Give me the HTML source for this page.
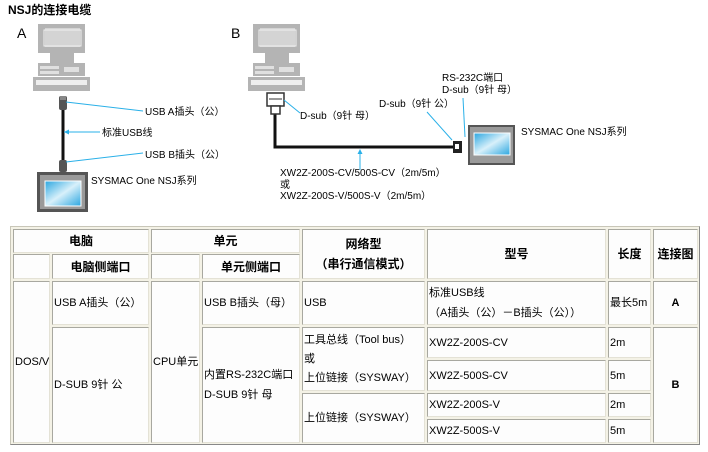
<!DOCTYPE html>
<html><head><meta charset="utf-8"><style>
body{margin:0;width:708px;height:452px;background:#fff;position:relative;overflow:hidden;font-family:"Liberation Sans","Noto Sans CJK SC",sans-serif;}
.t{position:absolute;left:10px;top:226px;width:688px;height:217px;background:#f4f2e6;border:1px solid #c8c6b8;border-right-color:#888;border-bottom-color:#888;}
.c{position:absolute;box-sizing:border-box;background:#fdfdfd;border:1px solid #a8a8a0;border-right-color:#e4e2d6;border-bottom-color:#e4e2d6;display:flex;align-items:center;font-size:11px;color:#000;padding-left:1px;line-height:18px;white-space:nowrap}
.h{justify-content:center;font-weight:bold;font-size:12px;padding:0}
.b{justify-content:center;font-weight:bold;padding:0}
svg text{font-family:"Liberation Sans","Noto Sans CJK SC",sans-serif;font-size:10px;fill:#000}
</style></head><body>
<svg width="708" height="222" style="position:absolute;left:0;top:0">
<text x="8" y="14" style="font-size:12px;font-weight:bold">NSJ的连接电缆</text>
<text x="17" y="38" style="font-size:14px">A</text>
<text x="231" y="38" style="font-size:14px">B</text>
<g id="pc" fill="#b4b4b4">
<rect x="38" y="24" width="47" height="29"/><rect x="45" y="28" width="35" height="19" fill="#d4d4d4"/>
<rect x="44" y="30" width="37" height="16" fill="none" stroke="#f0f0f0" stroke-width="1"/>
<rect x="50" y="53" width="24" height="10"/>
<rect x="38" y="63" width="47" height="13"/>
<rect x="40" y="66" width="19" height="3" fill="#e0e0e0"/><rect x="40" y="71" width="19" height="3" fill="#e0e0e0"/>
<rect x="64" y="67" width="15" height="5" fill="#e0e0e0"/>
<rect x="33" y="77" width="57" height="14"/>
<rect x="36" y="80" width="51" height="5" fill="#eee"/>
</g>
<use href="#pc" x="215" y="0"/>
<!-- A cable -->
<line x1="63" y1="108" x2="63" y2="162" stroke="#111" stroke-width="3"/>
<rect x="59" y="96" width="8" height="14" rx="2" fill="#555"/><rect x="60" y="96" width="6" height="4" fill="#888"/>
<rect x="59" y="160" width="8" height="12" rx="2" fill="#555"/>
<rect x="37" y="172" width="51" height="40" fill="#555"/><rect x="40" y="175" width="45" height="34" fill="#9a9a9a"/>
<defs><linearGradient id="g" x1="0" y1="0" x2="1" y2="1"><stop offset="0" stop-color="#2aa6e0"/><stop offset="0.5" stop-color="#d8f0fa"/><stop offset="1" stop-color="#2aa6e0"/></linearGradient></defs>
<rect x="45" y="181" width="36" height="25" fill="url(#g)" stroke="#fff"/>
<line x1="66" y1="102" x2="143" y2="111" stroke="#2ab0e8"/>
<line x1="64" y1="132" x2="100" y2="132" stroke="#2ab0e8"/><path d="M64 132 l5 -2.5 v5z" fill="#2ab0e8"/>
<line x1="66" y1="162" x2="143" y2="153" stroke="#2ab0e8"/>
<text x="145" y="115">USB A插头（公）</text>
<text x="102" y="136">标准USB线</text>
<text x="145" y="158">USB B插头（公）</text>
<text x="91" y="184">SYSMAC One NSJ系列</text>
<!-- B -->
<path d="M275 113 V147 H455" fill="none" stroke="#111" stroke-width="3"/>
<rect x="267" y="93" width="17" height="13" fill="#fff" stroke="#333" stroke-width="1.5"/><line x1="269" y1="99" x2="282" y2="99" stroke="#333"/>
<rect x="271" y="106" width="9" height="8" fill="#fff" stroke="#333" stroke-width="1.5"/>
<rect x="453" y="141" width="9" height="12" fill="#222"/><rect x="455" y="144" width="4" height="5" fill="#fff"/>
<rect x="468" y="125" width="47" height="40" fill="#555"/><rect x="470" y="127" width="43" height="36" fill="#9a9a9a"/>
<rect x="474" y="133" width="36" height="22" fill="url(#g)" stroke="#fff"/>
<line x1="284" y1="100" x2="300" y2="113" stroke="#2ab0e8"/>
<line x1="427" y1="112" x2="452" y2="140" stroke="#2ab0e8"/>
<line x1="463" y1="98" x2="465" y2="137" stroke="#2ab0e8"/>
<line x1="360" y1="150" x2="360" y2="170" stroke="#2ab0e8"/><path d="M360 149 l-2.5 5 h5z" fill="#2ab0e8"/>
<text x="300" y="119">D-sub（9针 母）</text>
<text x="379" y="107">D-sub（9针 公）</text>
<text x="442" y="81">RS-232C端口</text>
<text x="442" y="93">D-sub（9针 母）</text>
<text x="521" y="135">SYSMAC One NSJ系列</text>
<text x="280" y="176">XW2Z-200S-CV/500S-CV（2m/5m）</text>
<text x="280" y="188">或</text>
<text x="280" y="199">XW2Z-200S-V/500S-V（2m/5m）</text>
</svg>
<div class="t"></div>
<div class="c h" style="left:13px;top:229px;width:136px;height:24px">电脑</div>
<div class="c h" style="left:151px;top:229px;width:149px;height:24px">单元</div>
<div class="c h" style="left:302px;top:229px;width:123px;height:50px;line-height:20px;text-align:center">网络型<br>（串行通信模式）</div>
<div class="c h" style="left:427px;top:229px;width:179px;height:50px">型号</div>
<div class="c h" style="left:608px;top:229px;width:43px;height:50px">长度</div>
<div class="c h" style="left:653px;top:229px;width:45px;height:50px">连接图</div>
<div class="c" style="left:13px;top:254px;width:37px;height:25px"></div>
<div class="c h" style="left:52px;top:254px;width:97px;height:25px">电脑侧端口</div>
<div class="c" style="left:151px;top:254px;width:49px;height:25px"></div>
<div class="c h" style="left:202px;top:254px;width:98px;height:25px">单元侧端口</div>
<div class="c" style="left:13px;top:281px;width:37px;height:162px">DOS/V</div>
<div class="c" style="left:52px;top:281px;width:97px;height:44px">USB A插头（公）</div>
<div class="c" style="left:52px;top:327px;width:97px;height:116px">D-SUB 9针 公</div>
<div class="c" style="left:151px;top:281px;width:49px;height:162px">CPU单元</div>
<div class="c" style="left:202px;top:281px;width:98px;height:44px">USB B插头（母）</div>
<div class="c" style="left:202px;top:327px;width:98px;height:116px;line-height:20px">内置RS-232C端口<br>D-SUB 9针 母</div>
<div class="c" style="left:302px;top:281px;width:123px;height:44px">USB</div>
<div class="c" style="left:302px;top:327px;width:123px;height:64px;line-height:19px">工具总线（Tool bus）<br>或<br>上位链接（SYSWAY）</div>
<div class="c" style="left:302px;top:393px;width:123px;height:50px">上位链接（SYSWAY）</div>
<div class="c" style="left:427px;top:281px;width:179px;height:44px;line-height:20px">标准USB线<br>（A插头（公）－B插头（公））</div>
<div class="c" style="left:608px;top:281px;width:43px;height:44px">最长5m</div>
<div class="c b" style="left:653px;top:281px;width:45px;height:44px">A</div>
<div class="c" style="left:427px;top:327px;width:179px;height:31px">XW2Z-200S-CV</div>
<div class="c" style="left:427px;top:360px;width:179px;height:31px">XW2Z-500S-CV</div>
<div class="c" style="left:427px;top:393px;width:179px;height:24px">XW2Z-200S-V</div>
<div class="c" style="left:427px;top:419px;width:179px;height:24px">XW2Z-500S-V</div>
<div class="c" style="left:608px;top:327px;width:43px;height:31px">2m</div>
<div class="c" style="left:608px;top:360px;width:43px;height:31px">5m</div>
<div class="c" style="left:608px;top:393px;width:43px;height:24px">2m</div>
<div class="c" style="left:608px;top:419px;width:43px;height:24px">5m</div>
<div class="c b" style="left:653px;top:327px;width:45px;height:116px">B</div>
</body></html>
